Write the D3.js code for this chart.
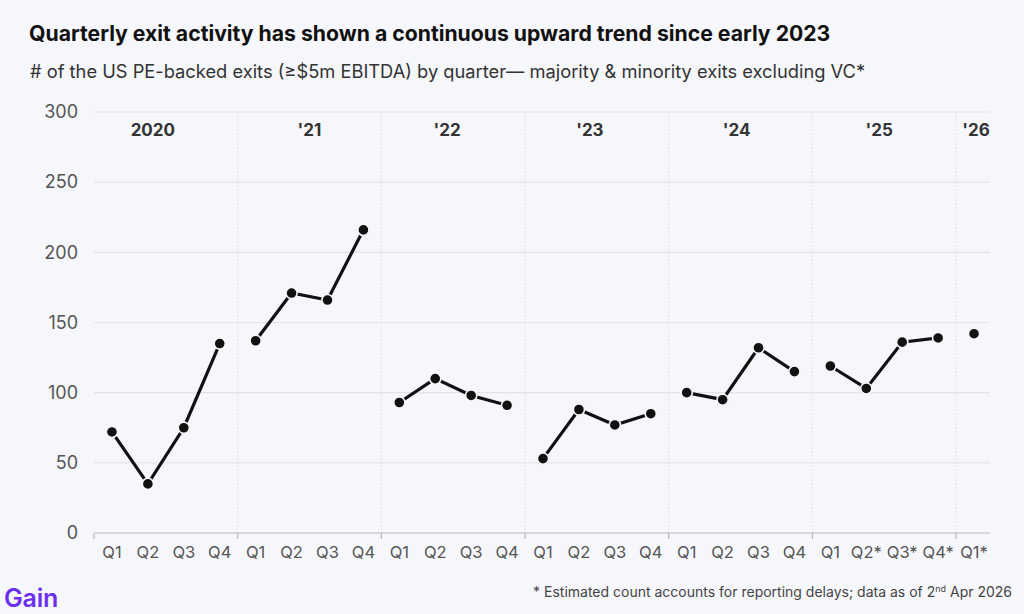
<!DOCTYPE html>
<html>
<head>
<meta charset="utf-8">
<script src="https://cdn.jsdelivr.net/npm/d3@7"></script>
<style>
  html, body { margin: 0; padding: 0; background: #f6f7fb; }
  svg { display: block; font-family: Inter, "Noto Sans", sans-serif; }
</style>
</head>
<body>
<div id="chart"></div>
<script>
// --- données ---
const years = ["2020", "'21", "'22", "'23", "'24", "'25", "'26"];
const quarterLabels = [
  "Q1", "Q2", "Q3", "Q4",
  "Q1", "Q2", "Q3", "Q4",
  "Q1", "Q2", "Q3", "Q4",
  "Q1", "Q2", "Q3", "Q4",
  "Q1", "Q2", "Q3", "Q4",
  "Q1", "Q2*", "Q3*", "Q4*",
  "Q1*"
];
const quarterYear = [
  0, 0, 0, 0, 1, 1, 1, 1, 2, 2, 2, 2, 3, 3, 3, 3,
  4, 4, 4, 4, 5, 5, 5, 5, 6
];
const exits = [
  72, 35, 75, 135,
  137, 171, 166, 216,
  93, 110, 98, 91,
  53, 88, 77, 85,
  100, 95, 132, 115,
  119, 103, 136, 139,
  142
];
const yTicks = [0, 50, 100, 150, 200, 250, 300];

const width = 1024, height = 614;
const margin = { left: 94, right: 32, top: 112, bottom: 81 };
// petit décalage des libellés d'année (comme sur l'original)
const yearShift = [-13, 0, -6, -7, -4, -5, 2];

const svg = d3.select("#chart").append("svg")
  .attr("width", width).attr("height", height);

svg.append("rect").attr("width", width).attr("height", height).attr("fill", "#f6f7fb");

// titre et sous-titre
svg.append("text")
  .attr("x", 29).attr("y", 41)
  .attr("font-size", 21.2).attr("font-weight", 700).attr("fill", "#111")
  .text("Quarterly exit activity has shown a continuous upward trend since early 2023");

svg.append("text")
  .attr("x", 30).attr("y", 78)
  .attr("font-size", 18.3).attr("fill", "#333")
  .text("# of the US PE-backed exits (≥$5m EBITDA) by quarter— majority & minority exits excluding VC*");

// échelles
const idx = d3.range(exits.length);
const x = d3.scaleBand().domain(idx).range([margin.left, width - margin.right]).padding(0);
const y = d3.scaleLinear().domain([0, 300]).range([height - margin.bottom, margin.top]);

// grille horizontale
svg.append("g").selectAll("line")
  .data(yTicks.filter(d => d > 0))
  .join("line")
  .attr("x1", margin.left).attr("x2", width - margin.right - 2)
  .attr("y1", d => y(d)).attr("y2", d => y(d))
  .attr("stroke", "#e3e4ea").attr("stroke-width", 1.2);

// axe Y
const yAxis = svg.append("g")
  .attr("transform", `translate(${margin.left},0)`)
  .call(d3.axisLeft(y).tickValues(yTicks).tickSize(0).tickPadding(16));
yAxis.select(".domain").remove();
yAxis.selectAll("text")
  .attr("font-size", 18).attr("fill", "#555").style("font-family", "Inter, 'Noto Sans', sans-serif");

// séparateurs d'année
const yearStarts = idx.filter(i => i > 0 && quarterYear[i] !== quarterYear[i - 1]);
svg.append("g").selectAll("line")
  .data(yearStarts)
  .join("line")
  .attr("x1", d => x(d)).attr("x2", d => x(d))
  .attr("y1", y(300)).attr("y2", y(0))
  .attr("stroke", "#dcdde3").attr("stroke-dasharray", "1.5,2");

// axe X
svg.append("line")
  .attr("x1", margin.left).attr("x2", width - margin.right - 2)
  .attr("y1", y(0)).attr("y2", y(0))
  .attr("stroke", "#b5b6bb").attr("stroke-width", 1.2);

svg.append("g").selectAll("line")
  .data([0].concat(yearStarts))
  .join("line")
  .attr("x1", d => x(d)).attr("x2", d => x(d))
  .attr("y1", y(0)).attr("y2", y(0) + 6)
  .attr("stroke", "#b5b6bb").attr("stroke-width", 1.2);

const xAxis = svg.append("g")
  .attr("transform", `translate(0,${y(0)})`)
  .call(d3.axisBottom(x).tickFormat(i => quarterLabels[i]).tickSize(0).tickPadding(13));
xAxis.select(".domain").remove();
xAxis.selectAll("text")
  .attr("font-size", 16.5).attr("fill", "#555").style("font-family", "Inter, 'Noto Sans', sans-serif");

// libellés des années
svg.append("g").selectAll("text")
  .data(years)
  .join("text")
  .attr("x", (d, k) => {
    const qs = idx.filter(i => quarterYear[i] === k);
    return (x(qs[0]) + x(qs[qs.length - 1]) + x.bandwidth()) / 2 + yearShift[k];
  })
  .attr("y", 136)
  .attr("text-anchor", "middle")
  .attr("font-size", 17).attr("font-weight", 700).attr("fill", "#333")
  .text(d => d);

// lignes par année
const line = d3.line()
  .x(i => x(i) + x.bandwidth() / 2)
  .y(i => y(exits[i]));

years.forEach((yr, k) => {
  const qs = idx.filter(i => quarterYear[i] === k);
  if (qs.length > 1) {
    svg.append("path")
      .attr("d", line(qs))
      .attr("fill", "none")
      .attr("stroke", "#111")
      .attr("stroke-width", 3.2);
  }
});

// points
svg.append("g").selectAll("circle")
  .data(idx)
  .join("circle")
  .attr("cx", i => x(i) + x.bandwidth() / 2)
  .attr("cy", i => y(exits[i]))
  .attr("r", 5.6)
  .attr("fill", "#111")
  .attr("stroke", "#f6f7fb")
  .attr("stroke-width", 1.6);

// note de bas de page
const note = svg.append("text")
  .attr("x", 1012).attr("y", 597)
  .attr("text-anchor", "end")
  .attr("font-size", 14).attr("fill", "#444");
note.append("tspan").text("* Estimated count accounts for reporting delays; data as of 2");
note.append("tspan").attr("dy", -5).attr("font-size", 9).text("nd");
note.append("tspan").attr("dy", 5).text(" Apr 2026");

// logo
svg.append("text")
  .attr("x", 4).attr("y", 607)
  .attr("font-size", 25).attr("font-weight", 600).attr("fill", "#6b2ff2")
  .attr("letter-spacing", -0.2)
  .text("Gain");
</script>
</body>
</html>
